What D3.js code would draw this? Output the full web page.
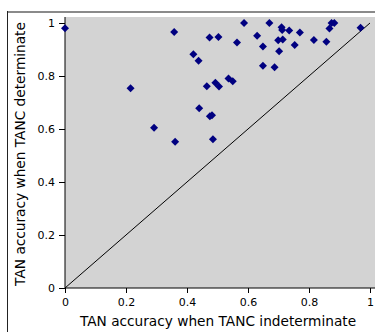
<!DOCTYPE html>
<html>
<head>
<meta charset="utf-8">
<script src="https://cdn.jsdelivr.net/npm/d3@7"></script>
<style>
  body { margin: 0; background: #fff; }
  svg { display: block; font-family: "DejaVu Sans", sans-serif; }
</style>
</head>
<body>
<div id="chart"></div>
<script>
// TAN accuracy when TANC indeterminate (x) vs determinate (y)
const xValues = [0.000, 0.358, 0.215, 0.292, 0.361, 0.587, 0.670, 0.710, 0.712, 0.735,
  0.770, 0.474, 0.503, 0.564, 0.630, 0.699, 0.714, 0.649, 0.753, 0.816,
  0.857, 0.702, 0.421, 0.438, 0.649, 0.687, 0.867, 0.874, 0.883, 0.969,
  0.465, 0.493, 0.505, 0.536, 0.550, 0.440, 0.475, 0.482, 0.485];
const yValues = [0.980, 0.966, 0.754, 0.605, 0.552, 1.000, 1.000, 0.984, 0.974, 0.972,
  0.964, 0.945, 0.947, 0.926, 0.952, 0.935, 0.938, 0.911, 0.917, 0.936,
  0.929, 0.893, 0.882, 0.858, 0.839, 0.833, 0.979, 1.000, 1.000, 0.982,
  0.761, 0.775, 0.760, 0.791, 0.780, 0.678, 0.648, 0.652, 0.561];
const tickValues = [0, 0.2, 0.4, 0.6, 0.8, 1];
const xTitle = 'TAN accuracy when TANC indeterminate';
const yTitle = 'TAN accuracy when TANC determinate';

const points = xValues.map((x, i) => ({ x: x, y: yValues[i] }));

const width = 375;
const height = 332;
const margin = { top: 17, right: 0, bottom: 44, left: 65 };

const svg = d3.select('#chart')
  .append('svg')
  .attr('width', width)
  .attr('height', height);

// outer frame (cut off on right and bottom)
svg.append('line')
  .attr('x1', 7).attr('x2', width)
  .attr('y1', 12).attr('y2', 12)
  .attr('stroke', '#8a8a8a')
  .attr('stroke-width', 2);
svg.append('line')
  .attr('x1', 7.5).attr('x2', 7.5)
  .attr('y1', 11).attr('y2', height)
  .attr('stroke', '#222')
  .attr('stroke-width', 1);

const xScale = d3.scaleLinear().domain([0, 1]).range([65, 370]);
const yScale = d3.scaleLinear().domain([0, 1]).range([288, 23]);

// plot background
svg.append('rect')
  .attr('x', xScale(0))
  .attr('y', margin.top)
  .attr('width', width - xScale(0))
  .attr('height', yScale(0) - margin.top)
  .attr('fill', '#d3d3d3');

// diagonal y = x
svg.append('line')
  .attr('x1', xScale(0)).attr('y1', yScale(0))
  .attr('x2', xScale(1)).attr('y2', yScale(1))
  .attr('stroke', '#000')
  .attr('stroke-width', 1);

const fmt = (d) => (d === 0 || d === 1 ? String(d) : d3.format('.1f')(d));

const xAxis = svg.append('g')
  .attr('transform', `translate(0,${yScale(0)})`)
  .call(d3.axisBottom(xScale).tickValues(tickValues).tickFormat(fmt).tickSize(5).tickSizeOuter(0));

const yAxis = svg.append('g')
  .attr('transform', `translate(${xScale(0)},0)`)
  .call(d3.axisLeft(yScale).tickValues(tickValues).tickFormat(fmt).tickSize(6).tickSizeOuter(0));

yAxis.select('.domain').attr('d', `M0,${margin.top}V${yScale(0)}`);
xAxis.select('.domain').attr('d', `M${xScale(0)},0H${width}`);

[xAxis, yAxis].forEach((g) => {
  g.selectAll('text')
    .attr('font-family', '"DejaVu Sans", sans-serif')
    .attr('font-size', 11)
    .attr('fill', '#000');
  g.selectAll('line, path').attr('stroke', '#000');
});
xAxis.selectAll('text').attr('dy', '0.95em');
yAxis.selectAll('text').attr('x', -10);

// axis titles
svg.append('text')
  .attr('text-anchor', 'middle')
  .attr('x', 218)
  .attr('y', 326)
  .attr('font-size', 13.7)
  .text(xTitle);

svg.append('text')
  .attr('text-anchor', 'middle')
  .attr('transform', 'rotate(-90)')
  .attr('x', -154)
  .attr('y', 25)
  .attr('font-size', 13.7)
  .text(yTitle);

// diamond markers
const diamond = d3.symbol().type(d3.symbolSquare).size(32);
svg.selectAll('.pt')
  .data(points)
  .enter()
  .append('path')
  .attr('class', 'pt')
  .attr('d', diamond)
  .attr('transform', (d) => `translate(${xScale(d.x)},${yScale(d.y)}) rotate(45)`)
  .attr('fill', '#000080');
</script>
</body>
</html>
